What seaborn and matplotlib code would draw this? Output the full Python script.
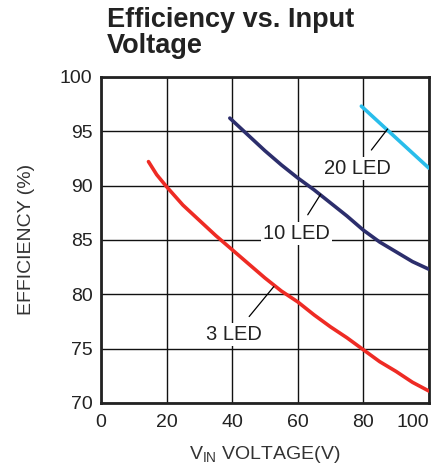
import numpy as np
import pandas as pd
import matplotlib
matplotlib.use("Agg")
import matplotlib.pyplot as plt
import seaborn as sns

# curve values
vin_3led = [14.5, 17, 20, 25, 30, 35, 40, 45, 50, 55, 60, 65, 70, 75, 80, 85, 90, 95, 100]
eff_3led = [92.2, 91.0, 89.9, 88.2, 86.8, 85.4, 84.1, 82.8, 81.5, 80.3, 79.3, 78.1, 77.0, 76.0, 74.9, 73.8, 72.9, 71.9, 71.1]

vin_10led = [39.3, 45, 50, 55, 60, 65, 70, 75, 80, 85, 90, 95, 100]
eff_10led = [96.2, 94.6, 93.2, 91.9, 90.7, 89.6, 88.4, 87.2, 85.9, 84.8, 83.9, 83.0, 82.3]

vin_20led = [79.4, 100]
eff_20led = [97.3, 91.6]

series_names = ["3 LED", "10 LED", "20 LED"]
colors = ["#EE2B24", "#2C2E6C", "#29BDEB"]

x_ticks = [0, 20, 40, 60, 80, 100]
y_ticks = [70, 75, 80, 85, 90, 95, 100]

df = pd.concat([
    pd.DataFrame({"vin": vin_3led, "eff": eff_3led, "leds": "3 LED"}),
    pd.DataFrame({"vin": vin_10led, "eff": eff_10led, "leds": "10 LED"}),
    pd.DataFrame({"vin": vin_20led, "eff": eff_20led, "leds": "20 LED"}),
])

sns.set_style("white")
plt.rcParams['font.family'] = ['Liberation Sans', 'DejaVu Sans']

fig = plt.figure(figsize=(4.35, 4.7), dpi=100)
ax = fig.add_axes([0.232, 0.1426, 0.754, 0.694])

sns.lineplot(data=df, x="vin", y="eff", hue="leds", hue_order=series_names,
             palette=colors, linewidth=2.6, legend=False, ax=ax,
             estimator=None, sort=False, zorder=3)

ax.set_xlim(0, 100)
ax.set_ylim(70, 100)
ax.set_xticks(x_ticks)
ax.set_yticks(y_ticks)
ax.grid(True, color="#111111", linewidth=1.0)
ax.set_axisbelow(True)
for s in ax.spines.values():
    s.set_visible(True)
    s.set_color("#222222")
    s.set_linewidth(2.0)
ax.tick_params(length=0, labelsize=14, colors="#222222")
ax.tick_params(axis="x", pad=8)
ax.tick_params(axis="y", pad=6)
# keep "100" inside the figure, as on the datasheet
ax.get_xticklabels()[-1].set_horizontalalignment("right")
ax.get_xticklabels()[-1].set_x(100)

ax.set_xlabel("V$_{\\mathregular{IN}}$ VOLTAGE(V)", fontsize=14, color="#333333", labelpad=9)
ax.set_ylabel("EFFICIENCY (%)", fontsize=14, color="#333333", labelpad=18)

# labels with leader lines
box = dict(facecolor="white", edgecolor="none", pad=1.5)
for name, tip, spot in [("20 LED", (87.4, 95.2), (78.2, 91.6)),
                        ("10 LED", (67, 89.2), (59.5, 85.6)),
                        ("3 LED", (52.7, 80.7), (40.7, 76.3))]:
    ax.annotate(name, xy=tip, xytext=spot, ha="center", va="center",
                fontsize=14.5, color="#222222", bbox=box,
                arrowprops=dict(arrowstyle="-", color="black", lw=0.9, shrinkA=6, shrinkB=0))

fig.text(0.245, 0.985, "Efficiency vs. Input\nVoltage", ha="left", va="top",
         fontsize=19.5, fontweight="bold", color="#222222", linespacing=1.0)

fig.savefig("out.png", dpi=100)
